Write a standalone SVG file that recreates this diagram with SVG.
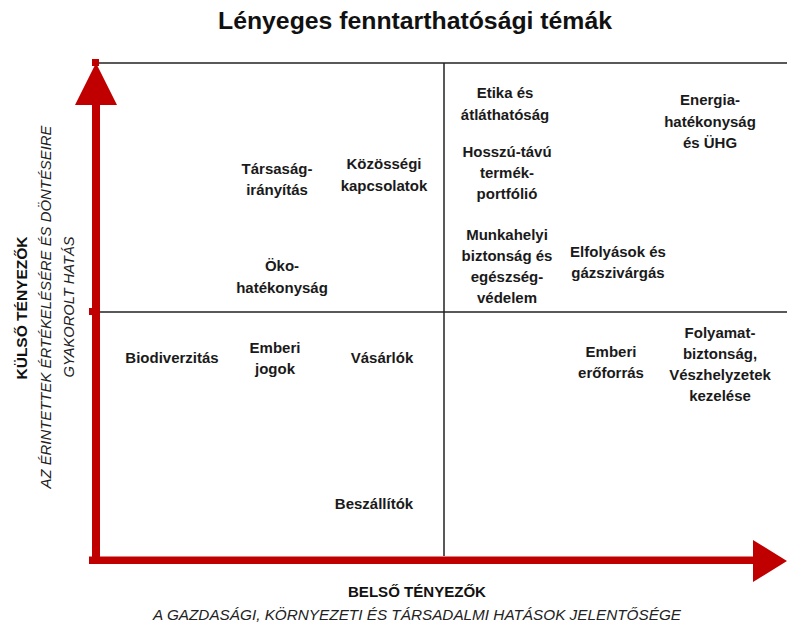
<svg xmlns="http://www.w3.org/2000/svg" width="787" height="625" viewBox="0 0 787 625">
<style>
.t{font-family:"Liberation Sans",Arial,sans-serif;font-weight:bold;font-size:15px;fill:#1a1a1a;text-anchor:middle}
.title{font-family:"Liberation Sans",Arial,sans-serif;font-weight:bold;font-size:23px;fill:#111;text-anchor:middle}
.ax{font-family:"Liberation Sans",Arial,sans-serif;font-weight:bold;font-size:14px;fill:#111;text-anchor:middle}
.axi{font-family:"Liberation Sans",Arial,sans-serif;font-style:italic;font-size:14px;fill:#222;text-anchor:middle}
.grid{stroke:#222;stroke-width:1.5;fill:none}
.red{fill:#C00000}
</style>
<rect width="787" height="625" fill="#fff"/>
<text class="title" x="415" y="29" textLength="394" lengthAdjust="spacingAndGlyphs">Lényeges fenntarthatósági témák</text>
<g id="grid">
<line class="grid" x1="99" y1="63" x2="787" y2="63"/>
<line class="grid" x1="99" y1="312" x2="787" y2="312"/>
<line class="grid" x1="444" y1="63" x2="444" y2="556"/>
</g>
<g id="connectors">
<rect class="red" x="92" y="103" width="8" height="461"/>
<polygon class="red" points="96,63 117,105 75,105"/>
<rect class="red" x="92" y="59" width="7" height="7"/>
<rect class="red" x="89" y="308" width="4" height="7"/>
<rect class="red" x="89" y="556.5" width="666" height="7.5"/>
<polygon class="red" points="787,561 753,540 753,582"/>
</g>
<g id="axis-y">
<text class="ax" transform="translate(27,308) rotate(-90)" textLength="143" lengthAdjust="spacingAndGlyphs">KÜLSŐ TÉNYEZŐK</text>
<text class="axi" transform="translate(51,307) rotate(-90)" textLength="363" lengthAdjust="spacingAndGlyphs">AZ ÉRINTETTEK ÉRTÉKELÉSÉRE ÉS DÖNTÉSEIRE</text>
<text class="axi" transform="translate(74,307) rotate(-90)" textLength="141" lengthAdjust="spacingAndGlyphs">GYAKOROLT HATÁS</text>
</g>
<g id="axis-x">
<text class="ax" x="417" y="597" textLength="138" lengthAdjust="spacingAndGlyphs">BELSŐ TÉNYEZŐK</text>
<text class="axi" x="417" y="620" textLength="528" lengthAdjust="spacingAndGlyphs">A GAZDASÁGI, KÖRNYEZETI ÉS TÁRSADALMI HATÁSOK JELENTŐSÉGE</text>
</g>
<g id="tarsasag"><text class="t" x="277" y="174">Társaság-</text><text class="t" x="277" y="195">irányítás</text></g>
<g id="kozossegi"><text class="t" x="384" y="169">Közösségi</text><text class="t" x="384" y="191">kapcsolatok</text></g>
<g id="oko"><text class="t" x="282" y="271">Öko-</text><text class="t" x="282" y="293">hatékonyság</text></g>
<g id="etika"><text class="t" x="505" y="98">Etika és</text><text class="t" x="505" y="120">átláthatóság</text></g>
<g id="hosszu"><text class="t" x="507" y="157">Hosszú-távú</text><text class="t" x="507" y="178">termék-</text><text class="t" x="507" y="199">portfólió</text></g>
<g id="munkahelyi"><text class="t" x="507" y="240">Munkahelyi</text><text class="t" x="507" y="261">biztonság és</text><text class="t" x="507" y="282">egészség-</text><text class="t" x="507" y="303">védelem</text></g>
<g id="elfolyasok"><text class="t" x="618" y="257">Elfolyások és</text><text class="t" x="618" y="278">gázszivárgás</text></g>
<g id="energia"><text class="t" x="710" y="105">Energia-</text><text class="t" x="710" y="127">hatékonyság</text><text class="t" x="710" y="148">és ÜHG</text></g>
<g id="biodiverzitas"><text class="t" x="172" y="363">Biodiverzitás</text></g>
<g id="emberi-jogok"><text class="t" x="275" y="353">Emberi</text><text class="t" x="275" y="374">jogok</text></g>
<g id="vasarlok"><text class="t" x="382" y="363">Vásárlók</text></g>
<g id="beszallitok"><text class="t" x="374" y="509">Beszállítók</text></g>
<g id="emberi-eroforras"><text class="t" x="611" y="357">Emberi</text><text class="t" x="611" y="378">erőforrás</text></g>
<g id="folyamat"><text class="t" x="720" y="338">Folyamat-</text><text class="t" x="720" y="359">biztonság,</text><text class="t" x="720" y="380">Vészhelyzetek</text><text class="t" x="720" y="401">kezelése</text></g>
</svg>
